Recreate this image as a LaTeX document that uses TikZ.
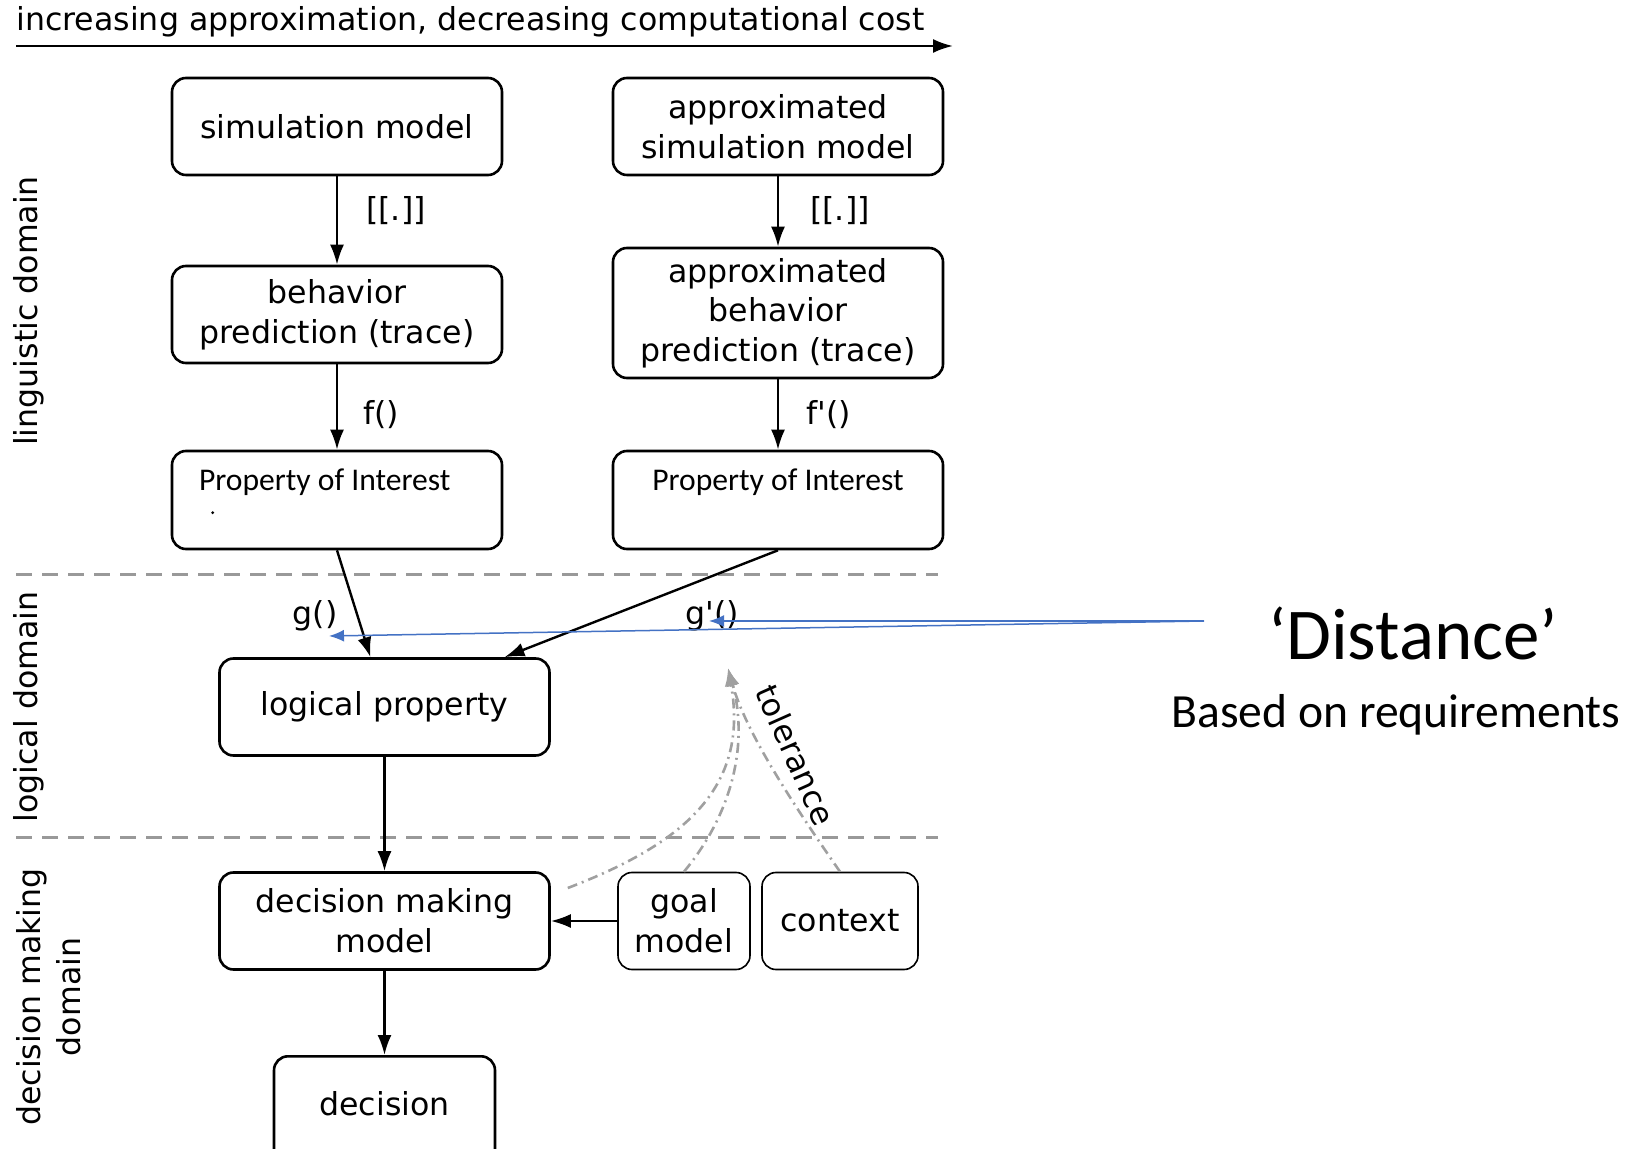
\documentclass[tikz,border=0pt]{standalone}
\usepackage{fontspec}
\usepackage{xcolor}
\usepackage{tikz}
\usetikzlibrary{
    arrows.meta,
    calc
}
\newfontfamily\diagfont{DejaVu Sans}
\newfontfamily\calfont{Carlito}
\definecolor{sepgray}{HTML}{999999}
\definecolor{tolgray}{HTML}{A0A0A0}
\definecolor{distblue}{HTML}{4472C4}
\tikzset{
    % Rounded model box
    modelbox/.style={
        rectangle,
        rounded corners=7pt,
        draw=black,
        line width=1.3pt,
        fill=white,
        minimum width=165pt,
        minimum height=48.5pt,
        align=center,
        inner sep=3pt,
        font=\diagfont\fontsize{15.8}{19.8}\selectfont
    },
    % Property box, text near the top
    propbox/.style={
        modelbox,
        font=\calfont\fontsize{15.8}{19}\selectfont,
        text height=17pt,
        text depth=26pt
    },
    % Small box beside the decision model
    smallbox/.style={
        modelbox,
        line width=0.8pt,
        minimum width=#1
    },
    smallbox/.default=66pt,
    % Function label
    funclabel/.style={
        font=\diagfont\fontsize{15.8}{19.8}\selectfont,
        inner sep=0pt
    },
    % Domain label
    domainlabel/.style={
        funclabel,
        rotate=90,
        align=center
    },
    % Arrow style
    flowarrow/.style={
        -{Latex[length=10pt,width=7pt]},
        line width=1.2pt,
        color=#1
    },
    flowarrow/.default=black,
    % Domain separator
    separator/.style={
        dash pattern=on 8pt off 5pt,
        line width=1.5pt,
        sepgray
    },
    % Tolerance arrow
    tolarrow/.style={
        -{Latex[length=9pt,width=6.5pt]},
        line width=1.3pt,
        tolgray,
        dash pattern=on 5pt off 2.5pt on 1pt off 2.5pt
    },
    % Distance arrow
    distarrow/.style={
        -{Latex[length=7.5pt,width=6pt]},
        line width=0.75pt,
        distblue
    }
}

\begin{document}
\begin{tikzpicture}[x=0.5pt, y=-0.5pt]

    \clip (0,0) rectangle (1634,1149);

    % Cost axis
    \node[funclabel, anchor=base west] (costtext) at (16,31)
        {increasing approximation, decreasing computational cost};
    \coordinate (coststart) at (16,46);
    \coordinate (costend) at (953,46);
    \draw[flowarrow] (coststart) -- (costend);

    % Domain labels
    \node[domainlabel] (lingdom) at (29,311) {linguistic domain};
    \node[domainlabel] (logdom) at (29,707) {logical domain};
    \node[domainlabel] (decdom) at (49,997) {decision making\\domain};

    % Domain separators
    \coordinate (sepa1) at (16,575);
    \coordinate (sepa2) at (938,575);
    \coordinate (sepb1) at (16,837);
    \coordinate (sepb2) at (938,837);
    \draw[separator] (sepa1) -- (sepa2);
    \draw[separator] (sepb1) -- (sepb2);

    % Exact chain
    \node[modelbox] (sim) at (337,126.5) {simulation model};
    \node[modelbox] (beh) at (337,314.5) {behavior\\prediction (trace)};
    \node[propbox, align=flush left, text width=138pt, inner xsep=13.5pt] (poi) at (337,500)
        {Property of Interest};
    \fill ([shift={(21pt,-31.5pt)}]poi.north west) circle (0.8pt);

    % Approximated chain
    \node[modelbox] (asim) at (778,126.5) {approximated\\simulation model};
    \node[modelbox, minimum height=65pt] (abeh) at (778,313)
        {approximated\\behavior\\prediction (trace)};
    \node[propbox] (apoi) at (778,500) {Property of Interest};

    % Logical and decision making domains
    \node[modelbox] (logic) at (384.5,707) {logical property};
    \node[modelbox] (dmm) at (384.5,921) {decision making\\model};
    \node[smallbox] (goal) at (684,921) {goal\\model};
    \node[smallbox=78pt] (ctx) at (840,921) {context};
    \node[modelbox, minimum width=110.5pt, text height=26.5pt, text depth=30pt, anchor=north]
        (dec) at (384.5,1055) {decision};

    % Connectors
    \draw[flowarrow] (sim) -- (beh);
    \draw[flowarrow] (beh) -- (poi);
    \draw[flowarrow] (asim) -- (abeh);
    \draw[flowarrow] (abeh) -- (apoi);
    \draw[flowarrow] (poi.south) -- ([xshift=-7pt]logic.north);
    \draw[flowarrow] (apoi.south) -- ([xshift=60pt]logic.north);
    \draw[flowarrow] (logic) -- (dmm);
    \draw[flowarrow] (dmm) -- (dec);
    \draw[flowarrow] (goal) -- (dmm);

    % Function labels
    \node[funclabel] (semleft) at (396,211) {[[.]]};
    \node[funclabel] (semright) at (840,211) {[[.]]};
    \node[funclabel] (fleft) at (381,415) {f()};
    \node[funclabel] (fright) at (829,415) {f'()};
    \node[funclabel] (gleft) at (315,616) {g()};
    \node[funclabel] (gright) at (712,616) {g'()};

    % Tolerance
    \coordinate (toltip) at (728,668);
    \draw[tolarrow] ([shift={(8.5pt,16.5pt)}]dmm.east)
        .. controls (680,845) and (750,790) .. (toltip);
    \draw[tolarrow] (goal.north) .. controls (735,810) and (748,740) .. (toltip);
    \draw[tolarrow] (ctx.north) .. controls (790,800) and (745,730) .. (toltip);
    \node[funclabel, rotate=-66] (tollabel) at (796,755) {tolerance};

    % Distance
    \node[font=\calfont\fontsize{36.5}{40}\selectfont, anchor=base, inner sep=0pt] (dist)
        at (1413,660) {‘Distance’};
    \node[font=\calfont\fontsize{23.8}{28}\selectfont, anchor=base, inner sep=0pt] (req)
        at (1396,727) {Based on requirements};
    \coordinate (diststart) at (1204,621);
    \coordinate (gtipright) at (709,621);
    \coordinate (gtipleft) at (329,636);
    \draw[distarrow] (diststart) -- (gtipright);
    \draw[distarrow] (diststart) -- (gtipleft);

\end{tikzpicture}
\end{document}
